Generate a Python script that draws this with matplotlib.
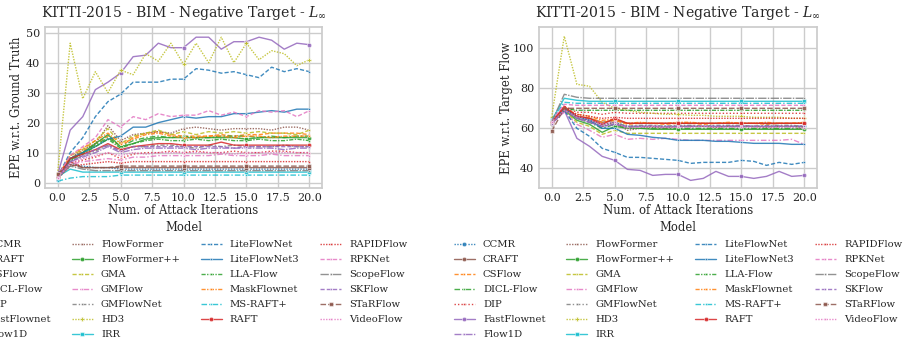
import matplotlib
matplotlib.use("Agg")
import matplotlib.pyplot as plt
import seaborn as sns

iterations = list(range(21))

models = ["CCMR", "CRAFT", "CSFlow", "DICL-Flow", "DIP", "FastFlownet", "Flow1D",
          "FlowFormer", "FlowFormer++", "GMA", "GMFlow", "GMFlowNet", "HD3", "IRR",
          "LiteFlowNet", "LiteFlowNet3", "LLA-Flow", "MaskFlownet", "MS-RAFT+", "RAFT",
          "RAPIDFlow", "RPKNet", "ScopeFlow", "SKFlow", "STaRFlow", "VideoFlow"]

# EPE w.r.t. ground truth (left panel)
ccmr_gt = [1.0, 6.0, 5.5, 5.0, 5.0, 4.5, 4.5, 4.5, 4.5, 4.5, 4.5, 4.5, 4.5, 4.5, 4.5, 4.5, 4.5, 4.5, 4.5, 4.5, 4.5]
craft_gt = [3.0, 7.0, 5.0, 5.0, 5.0, 5.0, 5.0, 5.0, 5.0, 5.0, 5.0, 5.0, 5.0, 5.0, 5.0, 5.0, 5.0, 5.0, 5.0, 5.0, 5.0]
csflow_gt = [2.0, 8.0, 10.5, 13.0, 15.5, 12.0, 15.0, 16.5, 17.0, 16.0, 15.5, 15.5, 15.5, 16.0, 15.5, 16.0, 16.0, 16.5, 16.5, 16.5, 16.0]
dicl_gt = [2.0, 7.5, 10.0, 12.5, 15.0, 12.0, 14.0, 15.0, 15.5, 15.0, 15.5, 15.0, 15.0, 15.5, 15.5, 15.5, 15.0, 15.5, 15.0, 15.5, 15.5]
dip_gt = [1.5, 6.5, 7.5, 8.5, 10.0, 8.0, 9.5, 10.0, 10.0, 10.5, 10.0, 10.5, 10.0, 10.0, 10.5, 10.0, 10.0, 10.5, 10.5, 10.0, 10.0]
fastflownet_gt = [2.5, 17.5, 22.0, 31.0, 33.5, 36.5, 42.0, 42.5, 46.5, 45.0, 45.0, 48.5, 48.5, 44.5, 47.0, 47.0, 48.5, 47.5, 44.5, 46.5, 46.0]
flow1d_gt = [1.5, 7.0, 8.5, 10.0, 12.0, 10.0, 11.0, 11.5, 11.5, 11.5, 11.5, 11.0, 11.5, 11.5, 11.5, 11.5, 11.5, 11.5, 11.0, 11.5, 11.5]
flowformer_gt = [2.0, 8.0, 11.0, 13.0, 19.0, 14.0, 16.0, 16.5, 17.0, 16.5, 18.0, 18.5, 18.0, 17.5, 18.0, 18.0, 18.0, 17.5, 18.5, 18.5, 17.5]
flowformerpp_gt = [2.0, 8.0, 10.0, 13.0, 16.0, 12.0, 13.0, 14.5, 15.0, 15.0, 15.0, 15.0, 15.0, 15.0, 15.0, 14.5, 15.0, 15.0, 15.0, 15.0, 15.0]
gma_gt = [2.0, 9.0, 11.0, 14.0, 18.0, 13.0, 15.5, 16.5, 17.5, 16.0, 17.0, 16.0, 17.0, 16.5, 17.0, 16.5, 17.0, 16.5, 16.5, 16.0, 17.5]
gmflow_gt = [1.5, 6.0, 7.0, 7.5, 8.0, 7.5, 8.5, 8.5, 9.0, 9.0, 9.0, 9.0, 9.0, 9.5, 9.0, 9.0, 9.0, 9.5, 9.0, 9.0, 9.0]
gmflownet_gt = [1.5, 7.0, 9.0, 10.5, 12.5, 10.5, 12.0, 12.0, 12.5, 12.5, 12.0, 11.5, 12.5, 12.0, 12.5, 12.0, 12.0, 12.0, 12.5, 12.0, 12.0]
hd3_gt = [3.0, 46.5, 28.0, 37.0, 30.0, 37.5, 36.0, 43.0, 40.5, 46.5, 39.5, 46.5, 40.0, 48.5, 40.0, 46.5, 41.0, 44.0, 43.0, 39.0, 41.0]
irr_gt = [2.0, 4.5, 3.5, 3.5, 3.5, 3.5, 3.5, 3.5, 3.5, 3.5, 3.5, 3.5, 3.5, 3.5, 3.5, 3.5, 3.5, 3.5, 3.5, 3.5, 3.5]
liteflownet_gt = [2.0, 10.0, 15.0, 22.0, 27.0, 29.5, 33.5, 33.5, 33.5, 34.5, 34.5, 38.0, 37.5, 36.5, 37.0, 36.0, 35.0, 38.5, 37.0, 38.0, 37.0]
liteflownet3_gt = [1.5, 8.0, 10.0, 12.0, 14.5, 15.5, 18.5, 18.5, 20.0, 21.0, 22.0, 21.5, 22.0, 22.0, 23.0, 23.0, 23.5, 24.0, 23.5, 24.5, 24.5]
llaflow_gt = [2.0, 7.5, 9.5, 12.0, 14.5, 11.5, 13.0, 14.0, 14.5, 14.0, 14.0, 14.5, 14.0, 14.5, 14.0, 14.0, 14.5, 14.0, 14.0, 14.5, 14.0]
maskflownet_gt = [2.0, 9.0, 11.5, 14.0, 16.5, 13.0, 14.5, 16.0, 16.5, 15.5, 15.0, 15.0, 15.5, 15.5, 15.0, 15.5, 15.5, 15.0, 15.5, 15.5, 15.5]
msraft_gt = [0.5, 1.5, 2.0, 2.0, 2.0, 2.5, 2.5, 2.5, 2.5, 2.5, 2.5, 2.5, 2.5, 2.5, 2.5, 2.5, 2.5, 2.5, 2.5, 2.5, 2.5]
raft_gt = [2.0, 8.0, 9.5, 11.0, 13.0, 11.0, 12.0, 12.5, 13.0, 13.0, 12.5, 12.5, 12.5, 13.5, 12.5, 12.5, 12.5, 12.5, 12.5, 12.5, 12.5]
rapidflow_gt = [1.5, 5.5, 6.0, 6.5, 7.0, 6.5, 7.0, 7.0, 7.0, 7.0, 7.0, 7.0, 7.0, 7.0, 7.0, 7.0, 7.0, 7.0, 7.0, 7.0, 7.0]
rpknet_gt = [2.0, 9.0, 12.0, 15.0, 21.0, 18.5, 22.0, 21.0, 23.0, 22.0, 22.5, 22.5, 24.0, 22.5, 23.5, 22.0, 24.0, 23.5, 24.0, 22.0, 24.0]
scopeflow_gt = [1.5, 5.5, 4.5, 4.0, 4.0, 4.0, 4.0, 4.0, 4.0, 4.0, 4.0, 4.0, 4.0, 4.0, 4.0, 4.0, 4.0, 4.0, 4.0, 4.0, 4.0]
skflow_gt = [1.5, 7.0, 9.0, 11.0, 12.5, 10.5, 12.0, 12.0, 12.0, 12.0, 12.0, 12.0, 12.0, 12.0, 11.5, 12.0, 12.0, 12.0, 12.0, 12.0, 12.0]
starflow_gt = [3.0, 6.0, 5.0, 5.0, 5.0, 5.5, 5.5, 5.5, 5.5, 5.5, 5.5, 5.5, 5.5, 5.5, 5.5, 5.5, 5.5, 5.5, 5.5, 5.5, 5.5]
videoflow_gt = [1.5, 6.5, 8.0, 9.0, 10.0, 9.0, 10.0, 9.5, 10.0, 10.0, 10.0, 10.0, 10.0, 10.0, 9.5, 10.0, 10.0, 10.0, 10.0, 10.0, 10.0]

# EPE w.r.t. target flow (right panel)
ccmr_tg = [62.0, 70.0, 66.0, 64.0, 62.0, 63.0, 61.0, 61.0, 61.0, 61.0, 61.0, 61.0, 61.0, 61.0, 61.0, 61.0, 61.0, 61.0, 61.0, 61.0, 61.0]
craft_tg = [62.0, 70.0, 66.0, 65.0, 63.0, 64.0, 62.5, 62.5, 62.5, 62.5, 62.5, 62.5, 62.5, 62.5, 62.5, 62.5, 62.5, 62.5, 62.5, 62.5, 62.5]
csflow_tg = [63.0, 70.0, 66.0, 65.0, 63.0, 64.0, 62.0, 62.5, 62.5, 62.0, 62.5, 62.5, 62.0, 62.5, 62.5, 62.5, 62.5, 62.0, 62.5, 62.5, 62.5]
dicl_tg = [63.0, 69.5, 65.0, 63.0, 60.0, 62.0, 60.0, 60.0, 60.0, 60.0, 60.0, 60.0, 60.0, 60.0, 60.0, 60.0, 60.0, 60.0, 60.0, 60.0, 60.0]
dip_tg = [63.0, 71.0, 68.0, 68.0, 67.0, 68.0, 67.5, 67.5, 67.5, 67.5, 67.5, 67.5, 67.5, 67.5, 67.5, 67.5, 67.5, 67.5, 67.5, 67.5, 67.5]
fastflownet_tg = [63.0, 69.0, 55.0, 51.0, 46.0, 44.0, 39.5, 39.0, 36.5, 37.0, 37.0, 34.0, 35.0, 38.5, 36.0, 36.0, 35.0, 36.0, 38.5, 36.0, 36.5]
flow1d_tg = [62.0, 69.0, 65.0, 63.0, 61.0, 62.0, 61.0, 61.0, 61.0, 61.0, 61.0, 61.0, 61.0, 61.0, 61.0, 61.0, 61.0, 61.0, 61.0, 61.0, 61.0]
flowformer_tg = [63.0, 70.0, 66.0, 64.0, 61.0, 63.0, 59.0, 60.0, 60.5, 60.0, 61.0, 61.0, 61.0, 60.5, 61.0, 61.0, 61.0, 60.5, 61.0, 61.0, 60.5]
flowformerpp_tg = [63.0, 69.0, 64.0, 62.0, 58.0, 61.0, 60.0, 60.0, 59.5, 59.5, 59.5, 59.5, 59.5, 59.5, 59.5, 59.5, 59.5, 59.5, 59.5, 59.5, 59.5]
gma_tg = [63.0, 69.0, 63.0, 61.0, 57.0, 59.0, 57.5, 57.5, 57.5, 57.5, 57.5, 57.5, 57.5, 57.5, 57.5, 57.5, 57.5, 57.5, 57.5, 57.5, 57.5]
gmflow_tg = [63.0, 68.0, 62.0, 59.0, 55.5, 57.0, 54.5, 55.0, 54.5, 55.0, 54.5, 54.0, 54.0, 54.0, 54.0, 54.0, 54.0, 54.0, 54.0, 54.5, 52.0]
gmflownet_tg = [62.0, 69.0, 65.0, 64.0, 62.0, 63.0, 61.0, 61.5, 61.5, 61.0, 61.5, 61.5, 61.0, 61.5, 61.5, 61.5, 61.0, 61.5, 61.5, 61.5, 61.0]
hd3_tg = [65.5, 106.0, 82.0, 81.0, 73.0, 70.0, 69.0, 68.0, 67.5, 67.0, 67.0, 66.5, 66.5, 66.0, 66.0, 66.0, 65.5, 65.5, 65.5, 65.0, 65.0]
irr_tg = [64.0, 75.0, 74.0, 73.5, 73.5, 73.5, 73.5, 73.5, 73.5, 73.5, 73.5, 73.5, 73.5, 73.5, 73.5, 73.5, 73.5, 73.5, 73.5, 73.5, 73.5]
liteflownet_tg = [63.0, 69.0, 60.0, 56.0, 50.0, 48.0, 45.5, 45.5, 45.0, 44.5, 44.0, 42.5, 43.0, 43.0, 43.0, 44.0, 43.5, 41.5, 43.0, 42.0, 43.0]
liteflownet3_tg = [63.0, 70.0, 66.0, 64.0, 60.0, 60.0, 57.0, 56.5, 55.5, 55.0, 54.0, 54.0, 54.0, 53.5, 53.5, 53.0, 52.5, 52.5, 52.5, 52.0, 52.0]
llaflow_tg = [63.0, 70.0, 69.0, 69.0, 69.0, 69.0, 69.0, 69.0, 69.0, 69.0, 69.0, 69.0, 69.0, 69.0, 69.0, 69.0, 69.0, 69.0, 69.0, 69.0, 69.0]
maskflownet_tg = [63.0, 70.0, 67.0, 66.0, 64.0, 64.5, 62.5, 63.0, 62.5, 62.5, 63.0, 63.0, 62.5, 62.5, 63.0, 62.5, 62.5, 63.0, 62.5, 62.5, 63.0]
msraft_tg = [64.0, 73.0, 72.5, 72.5, 72.5, 72.5, 72.5, 72.5, 72.5, 72.5, 72.5, 72.5, 72.5, 72.5, 72.5, 72.5, 72.5, 72.5, 72.5, 72.5, 72.5]
raft_tg = [63.0, 71.0, 66.0, 65.0, 62.0, 65.0, 62.5, 62.5, 62.5, 62.5, 62.5, 62.5, 62.5, 62.5, 62.5, 62.5, 62.5, 62.5, 62.5, 62.5, 62.5]
rapidflow_tg = [63.0, 70.0, 67.0, 66.0, 65.0, 65.5, 65.0, 65.0, 65.0, 65.0, 65.0, 65.0, 65.0, 65.0, 65.0, 65.0, 65.0, 65.0, 65.0, 65.0, 65.0]
rpknet_tg = [64.0, 72.0, 71.5, 71.5, 71.5, 71.5, 71.5, 71.5, 71.5, 71.5, 71.5, 71.5, 71.5, 71.5, 71.5, 71.5, 71.5, 71.5, 71.5, 71.5, 71.5]
scopeflow_tg = [63.0, 77.0, 75.5, 75.0, 75.0, 75.0, 75.0, 75.0, 75.0, 75.0, 75.0, 75.0, 75.0, 75.0, 75.0, 75.0, 75.0, 75.0, 75.0, 75.0, 75.0]
skflow_tg = [62.0, 69.0, 65.0, 63.0, 61.0, 62.0, 60.5, 61.0, 61.0, 60.5, 61.0, 61.0, 61.0, 61.0, 61.0, 61.0, 61.0, 61.0, 61.0, 61.0, 61.0]
starflow_tg = [58.5, 70.0, 70.0, 70.0, 70.0, 70.0, 70.0, 70.0, 70.0, 70.0, 70.0, 70.0, 70.0, 70.0, 70.0, 70.0, 70.0, 70.0, 70.0, 70.0, 70.0]
videoflow_tg = [63.0, 69.0, 66.0, 64.0, 62.0, 63.0, 60.0, 60.5, 61.0, 60.5, 60.5, 60.5, 61.0, 60.5, 60.5, 60.5, 60.5, 60.5, 60.5, 60.5, 60.0]

gt_values = [ccmr_gt, craft_gt, csflow_gt, dicl_gt, dip_gt, fastflownet_gt, flow1d_gt,
             flowformer_gt, flowformerpp_gt, gma_gt, gmflow_gt, gmflownet_gt, hd3_gt, irr_gt,
             liteflownet_gt, liteflownet3_gt, llaflow_gt, maskflownet_gt, msraft_gt, raft_gt,
             rapidflow_gt, rpknet_gt, scopeflow_gt, skflow_gt, starflow_gt, videoflow_gt]
tg_values = [ccmr_tg, craft_tg, csflow_tg, dicl_tg, dip_tg, fastflownet_tg, flow1d_tg,
             flowformer_tg, flowformerpp_tg, gma_tg, gmflow_tg, gmflownet_tg, hd3_tg, irr_tg,
             liteflownet_tg, liteflownet3_tg, llaflow_tg, maskflownet_tg, msraft_tg, raft_tg,
             rapidflow_tg, rpknet_tg, scopeflow_tg, skflow_tg, starflow_tg, videoflow_tg]

# colour, dash pattern, marker for each model
styles = {
    "CCMR": ("tab:blue", (1, 1), "o"),
    "CRAFT": ("tab:brown", "-", "o"),
    "CSFlow": ("tab:orange", (3, 1.5), "."),
    "DICL-Flow": ("tab:green", (4, 1.5, 1, 1.5), "."),
    "DIP": ("tab:red", (1, 1.5), "."),
    "FastFlownet": ("tab:purple", "-", "o"),
    "Flow1D": ("tab:purple", (5, 1, 1, 1), "."),
    "FlowFormer": ("tab:brown", (1, 1), "."),
    "FlowFormer++": ("tab:green", "-", "o"),
    "GMA": ("tab:olive", (3, 1.5), "."),
    "GMFlow": ("tab:pink", (4, 1.5, 1, 1.5), "."),
    "GMFlowNet": ("tab:gray", (3, 1.5, 1, 1.5), "."),
    "HD3": ("tab:olive", (1, 1), "P"),
    "IRR": ("tab:cyan", "-", "s"),
    "LiteFlowNet": ("tab:blue", (3, 1.5), "."),
    "LiteFlowNet3": ("tab:blue", "-", "."),
    "LLA-Flow": ("tab:green", (3, 1, 1, 1), "."),
    "MaskFlownet": ("tab:orange", (3, 1, 1, 1), "."),
    "MS-RAFT+": ("tab:cyan", (4, 1.5, 1, 1.5), "."),
    "RAFT": ("tab:red", "-", "o"),
    "RAPIDFlow": ("tab:red", (1, 1), "."),
    "RPKNet": ("tab:pink", (3, 1.5), "."),
    "ScopeFlow": ("tab:gray", (6, 1, 1, 1), "."),
    "SKFlow": ("tab:purple", (3, 1.5), "."),
    "STaRFlow": ("tab:brown", (4, 1.5), "s"),
    "VideoFlow": ("tab:pink", (1, 1), "."),
}

sns.set_theme(style="whitegrid")
plt.rcParams["font.family"] = ["DejaVu Serif"]
plt.rcParams["mathtext.fontset"] = "dejavuserif"

fig = plt.figure(figsize=(9.06, 3.43), dpi=100)
ax1 = fig.add_axes([45 / 906, 155 / 343, 277 / 906, 161 / 343])
ax2 = fig.add_axes([539 / 906, 155 / 343, 278 / 906, 161 / 343])


def draw(ax, values, ylabel, ylim, yticks, ylabel_x):
    for name, vals in zip(models, values):
        color, dash, marker = styles[name]
        line, = ax.plot(iterations, vals, color=color, lw=1.0, alpha=0.85,
                        marker=marker, markersize=3.2, markevery=5,
                        markeredgecolor="white", markeredgewidth=0.4, label=name)
        if dash != "-":
            line.set_dashes(dash)
    ax.set_xlim(-1, 21)
    ax.set_ylim(*ylim)
    ax.set_xticks([0, 2.5, 5, 7.5, 10, 12.5, 15, 17.5, 20])
    ax.set_yticks(yticks)
    ax.tick_params(labelsize=8, length=0, pad=3.5)
    ax.set_xlabel("Num. of Attack Iterations", fontsize=8.4, labelpad=1)
    ax.set_ylabel(ylabel, fontsize=8.4)
    ax.yaxis.set_label_coords(ylabel_x, 0.5)
    ax.set_title(r"KITTI-2015 - BIM - Negative Target - $L_\infty$", fontsize=10.1, pad=7)
    ax.legend(loc="upper center", bbox_to_anchor=(0.5, -0.15), ncol=4,
              frameon=False, title="Model", fontsize=7.2, title_fontsize=8.3,
              handlelength=2.1, handletextpad=0.8, columnspacing=2.1, labelspacing=0.6)


draw(ax1, gt_values, "EPE w.r.t. Ground Truth", (-1.8, 51.9), [0, 10, 20, 30, 40, 50], -0.08)
draw(ax2, tg_values, "EPE w.r.t. Target Flow", (30.2, 110.6), [40, 60, 80, 100], -0.095)

fig.savefig("out.png", dpi=100)
